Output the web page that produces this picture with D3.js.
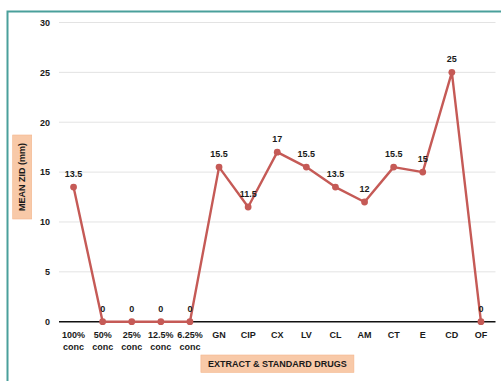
<!DOCTYPE html>
<html>
<head>
<meta charset="utf-8">
<script src="https://cdn.jsdelivr.net/npm/d3@7"></script>
<style>
  html, body { margin: 0; padding: 0; background: #fff; }
  svg { display: block; }
  text { font-family: "Liberation Sans", Arial, sans-serif; font-weight: bold; fill: #1a1a1a; }
</style>
</head>
<body>
<svg id="chart" width="501" height="381"></svg>
<script>
// Categories: extract concentrations and standard drugs
const categories = ["100%\nconc", "50%\nconc", "25%\nconc", "12.5%\nconc", "6.25%\nconc",
  "GN", "CIP", "CX", "LV", "CL", "AM", "CT", "E", "CD", "OF"];
// Mean zone of inhibition diameter (mm)
const zidValues = [13.5, 0, 0, 0, 0, 15.5, 11.5, 17, 15.5, 13.5, 12, 15.5, 15, 25, 0];
const yTicks = [0, 5, 10, 15, 20, 25, 30];

const svg = d3.select("#chart");
const plotLeft = 59, plotRight = 495.5, plotTop = 22.5, plotBottom = 321.7;

// outer frame (left and top edges visible)
svg.append("path")
  .attr("d", `M7.5,381 L7.5,11.5 L501,11.5`)
  .attr("fill", "none").attr("stroke", "#4aa09b").attr("stroke-width", 2);

const x = d3.scalePoint().domain(d3.range(categories.length)).range([plotLeft, plotRight]).padding(0.5);
const y = d3.scaleLinear().domain([0, 30]).range([plotBottom, plotTop]);

// gridlines
svg.append("g").selectAll("line").data(yTicks.filter(d => d > 0)).join("line")
  .attr("x1", plotLeft).attr("x2", plotRight)
  .attr("y1", d => y(d)).attr("y2", d => y(d))
  .attr("stroke", "#e3e3e3").attr("stroke-width", 1);

// y axis labels
const yAxis = d3.axisLeft(y).tickValues(yTicks).tickSize(0).tickPadding(9);
const yg = svg.append("g").attr("transform", `translate(${plotLeft},0)`).call(yAxis);
yg.select(".domain").remove();
yg.selectAll("text").attr("font-size", 9).attr("font-family", "Liberation Sans, Arial, sans-serif")
  .attr("font-weight", "bold").attr("fill", "#1a1a1a");

// x axis baseline
svg.append("line").attr("x1", plotLeft).attr("x2", plotRight)
  .attr("y1", y(0)).attr("y2", y(0)).attr("stroke", "#111").attr("stroke-width", 1.6);

// x category labels (two lines)
const xl = svg.append("g").selectAll("text").data(categories).join("text")
  .attr("text-anchor", "middle").attr("font-size", 9)
  .attr("transform", (d, i) => `translate(${x(i)},${y(0) + 16})`);
xl.each(function(d) {
  const parts = d.split("\n");
  const t = d3.select(this);
  parts.forEach((p, k) => t.append("tspan").attr("x", 0).attr("dy", k === 0 ? 0 : 12.7).text(p));
});

// line series
const lineColor = "#c55a56";
svg.append("path").datum(zidValues)
  .attr("fill", "none").attr("stroke", lineColor).attr("stroke-width", 2.4)
  .attr("stroke-linejoin", "round")
  .attr("d", d3.line().x((d, i) => x(i)).y(d => y(d)));

svg.append("g").selectAll("circle").data(zidValues).join("circle")
  .attr("cx", (d, i) => x(i)).attr("cy", d => y(d)).attr("r", 3.4)
  .attr("fill", lineColor);

// value labels
svg.append("g").selectAll("text").data(zidValues).join("text")
  .attr("x", (d, i) => x(i)).attr("y", d => y(d) - 10)
  .attr("text-anchor", "middle").attr("font-size", 9)
  .text(d => d);

// y axis title with shaded box
const yt = svg.append("g").attr("transform", "translate(22.2,177)");
yt.append("rect").attr("x", -9.5).attr("y", -42).attr("width", 19).attr("height", 84)
  .attr("fill", "#f8c9a8").attr("stroke", "#f4b68c").attr("stroke-width", 0.6);
yt.append("text").attr("transform", "rotate(-90)").attr("text-anchor", "middle")
  .attr("dy", "0.35em").attr("font-size", 9).text("MEAN ZID (mm)");

// x axis title with shaded box
const xt = svg.append("g").attr("transform", "translate(277.4,363.7)");
xt.append("rect").attr("x", -76.5).attr("y", -8.7).attr("width", 153).attr("height", 17.4)
  .attr("fill", "#f8c9a8").attr("stroke", "#f4b68c").attr("stroke-width", 0.6);
xt.append("text").attr("text-anchor", "middle").attr("dy", "0.35em")
  .attr("font-size", 9).text("EXTRACT & STANDARD DRUGS");
</script>
</body>
</html>
